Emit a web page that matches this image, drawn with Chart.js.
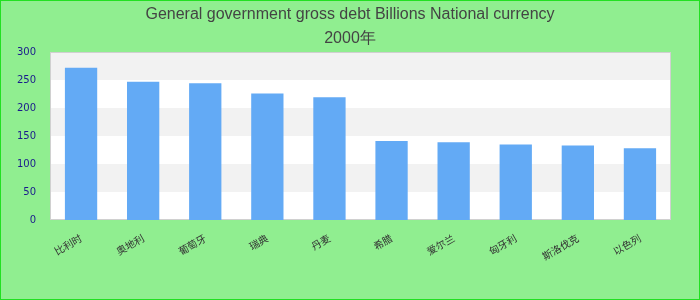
<!DOCTYPE html>
<html>
<head>
<meta charset="utf-8">
<script src="https://cdn.jsdelivr.net/npm/chart.js@4"></script>
<style>
    body { margin: 0; background: #90ee90; }
    #wrap { width: 700px; height: 300px; box-sizing: border-box; border: 1px solid #22e022; background: #90ee90; }
</style>
</head>
<body>
<div id="wrap"><canvas id="debtChart" width="698" height="298"></canvas></div>
<script>
// 2000, general government gross debt (billions, national currency)
var countries = ["比利时", "奥地利", "葡萄牙", "瑞典", "丹麦", "希腊", "爱尔兰", "匈牙利", "斯洛伐克", "以色列"];
var debtValues = [272, 247, 244, 226, 219, 141, 139, 135, 133, 128];
var yTicks = [0, 50, 100, 150, 200, 250, 300];
var titleLines = ["General government gross debt Billions National currency", "2000年"];

// alternating horizontal bands behind the bars
var bandPlugin = {
    id: "bands",
    beforeDraw: function (chart) {
        var ctx = chart.ctx;
        var area = chart.chartArea;
        var y = chart.scales.y;
        ctx.save();
        ctx.fillStyle = "#ffffff";
        ctx.fillRect(area.left, area.top, area.right - area.left, area.bottom - area.top);
        for (var i = 0; i < yTicks.length - 1; i++) {
            if (i % 2 === 1) {
                var top = y.getPixelForValue(yTicks[i + 1]);
                var bottom = y.getPixelForValue(yTicks[i]);
                ctx.fillStyle = "#f2f2f2";
                ctx.fillRect(area.left, top, area.right - area.left, bottom - top);
            }
        }
        ctx.strokeStyle = "#d0d0d0";
        ctx.lineWidth = 1;
        ctx.strokeRect(area.left + 0.5, area.top + 0.5, area.right - area.left - 1, area.bottom - area.top - 1);
        ctx.restore();
    }
};

new Chart(document.getElementById("debtChart"), {
    type: "bar",
    data: {
        labels: countries,
        datasets: [{
            data: debtValues,
            backgroundColor: "#63aaf5",
            categoryPercentage: 1,
            barPercentage: 0.52
        }]
    },
    options: {
        responsive: false,
        animation: false,
        layout: { padding: 0 },
        plugins: {
            legend: { display: false },
            tooltip: { enabled: false },
            title: {
                display: true,
                text: titleLines,
                color: "#444444",
                font: { family: "Liberation Sans, Arial, sans-serif", size: 16, weight: "normal", lineHeight: 1.5 },
                padding: { top: 2, bottom: 1 }
            }
        },
        scales: {
            y: {
                min: 0,
                max: 300,
                afterBuildTicks: function (axis) {
                    axis.ticks = yTicks.map(function (v) { return { value: v }; });
                },
                afterFit: function (axis) { axis.width = 49; },
                grid: { display: false },
                border: { display: false },
                ticks: {
                    color: "#1a1a8c",
                    font: { family: "DejaVu Sans, sans-serif", size: 10 },
                    padding: 6
                }
            },
            // empty right-hand margin, keeps the title centred on the canvas
            yRight: {
                position: "right",
                display: true,
                afterFit: function (axis) { axis.width = 28; },
                grid: { display: false },
                border: { display: false },
                ticks: { display: false }
            },
            x: {
                afterFit: function (axis) { axis.height = 79; },
                grid: { display: false },
                border: { display: false },
                ticks: {
                    color: "#333333",
                    font: { family: "Noto Sans CJK SC, sans-serif", size: 10 },
                    maxRotation: 30,
                    minRotation: 30,
                    padding: 4
                }
            }
        }
    },
    plugins: [bandPlugin]
});
</script>
</body>
</html>
